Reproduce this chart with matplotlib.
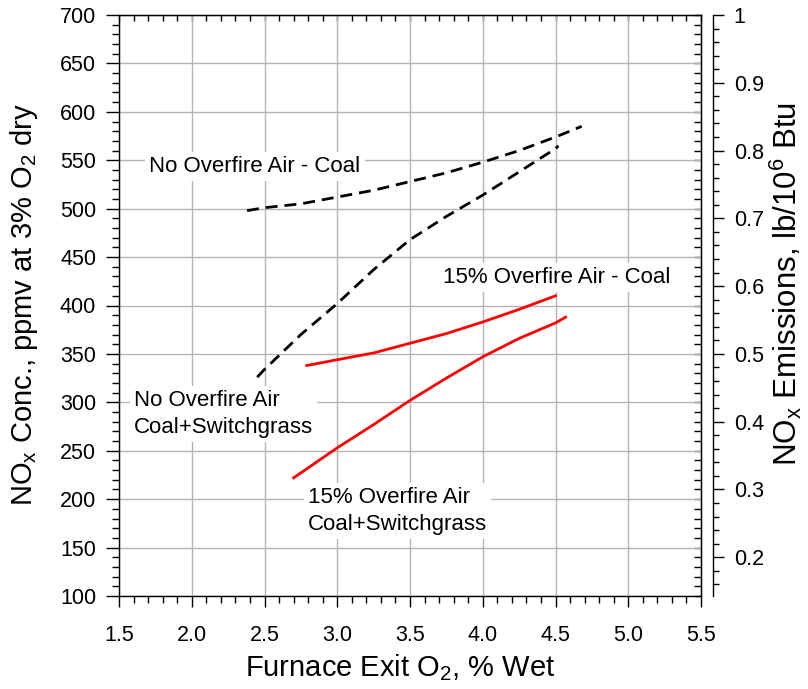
import matplotlib
matplotlib.use("Agg")
import matplotlib.pyplot as plt
from matplotlib.ticker import MultipleLocator, NullFormatter, FuncFormatter

plt.rcParams['font.family'] = ['Liberation Sans', 'DejaVu Sans']
plt.rcParams['mathtext.fontset'] = 'custom'
plt.rcParams['mathtext.rm'] = 'Liberation Sans'
plt.rcParams['mathtext.it'] = 'Liberation Sans:italic'
plt.rcParams['mathtext.default'] = 'regular'

# ---- data ----
nofa_coal_x = [2.38, 2.5, 2.75, 3.0, 3.25, 3.5, 3.75, 4.0, 4.25, 4.5, 4.68]
nofa_coal_y = [498, 501, 505, 512, 519, 528, 537, 548, 560, 574, 585]

nofa_sg_x = [2.45, 2.5, 2.75, 3.0, 3.25, 3.5, 3.75, 4.0, 4.25, 4.5, 4.52]
nofa_sg_y = [326, 334, 370, 402, 437, 468, 492, 514, 538, 562, 565]

ofa_coal_x = [2.79, 3.0, 3.25, 3.5, 3.75, 4.0, 4.25, 4.5]
ofa_coal_y = [338, 344, 351, 361, 371, 383, 396, 410]

ofa_sg_x = [2.70, 3.0, 3.25, 3.5, 3.75, 4.0, 4.25, 4.5, 4.57]
ofa_sg_y = [222, 253, 277, 302, 325, 347, 366, 382, 388]

labels = ["No Overfire Air - Coal",
          "No Overfire Air\nCoal+Switchgrass",
          "15% Overfire Air - Coal",
          "15% Overfire Air\nCoal+Switchgrass"]

ppm_per_lb = 700.0  # right axis conversion

W, H = 808, 689
fig = plt.figure(figsize=(W / 100, H / 100), dpi=100)
L, R, T, B = 119, 701, 15, 596
ax = fig.add_axes([L / W, 1 - B / H, (R - L) / W, (B - T) / H])

ax.set_xlim(1.5, 5.5)
ax.set_ylim(100, 700)
ax.xaxis.set_major_locator(MultipleLocator(0.5))
ax.xaxis.set_minor_locator(MultipleLocator(0.1))
ax.yaxis.set_major_locator(MultipleLocator(50))
ax.yaxis.set_minor_locator(MultipleLocator(10))
ax.xaxis.set_major_formatter(FuncFormatter(lambda v, p: f"{v:.1f}"))
ax.yaxis.set_major_formatter(FuncFormatter(lambda v, p: f"{v:.0f}"))
ax.grid(True, which='major', color='#b4b4b4', linewidth=1.0)
ax.set_axisbelow(True)
for s in ax.spines.values():
    s.set_color('black')
    s.set_linewidth(1.0)

ax.tick_params(axis='y', which='major', direction='out', length=9.5, width=1,
               labelsize=15.5, pad=7, right=False)
ax.tick_params(axis='y', which='minor', direction='out', length=4.8, width=1, right=False)
ax.tick_params(axis='x', which='major', direction='out', length=8, width=1,
               labelsize=15.5, pad=13, top=False)
ax.tick_params(axis='x', which='minor', direction='out', length=4.8, width=1, top=False)

# inward ticks on top and right of the frame
secx = ax.secondary_xaxis('top')
secx.xaxis.set_major_locator(MultipleLocator(0.5))
secx.xaxis.set_minor_locator(MultipleLocator(0.1))
secx.xaxis.set_major_formatter(NullFormatter())
secx.tick_params(which='major', direction='in', length=4, width=1)
secx.tick_params(which='minor', direction='in', length=4, width=1)
secy = ax.secondary_yaxis('right')
secy.yaxis.set_major_locator(MultipleLocator(50))
secy.yaxis.set_minor_locator(MultipleLocator(10))
secy.yaxis.set_major_formatter(NullFormatter())
secy.tick_params(which='major', direction='in', length=5, width=1)
secy.tick_params(which='minor', direction='in', length=5, width=1)

# curves
ax.plot(nofa_coal_x, nofa_coal_y, color='black', lw=2.0, dashes=(4.3, 2.5))
ax.plot(nofa_sg_x, nofa_sg_y, color='black', lw=2.0, dashes=(4.3, 2.5))
ax.plot(ofa_coal_x, ofa_coal_y, color='#ff0000', lw=2.0)
ax.plot(ofa_sg_x, ofa_sg_y, color='#ff0000', lw=2.0)

box = dict(facecolor='white', edgecolor='none', pad=3)
ax.text(2.435, 538, labels[0], fontsize=16, ha='center', va='baseline', bbox=box)
ax.text(1.603, 268.5, labels[1], fontsize=16, ha='left', va='baseline', bbox=box,
        linespacing=1.35)
ax.text(3.73, 423, labels[2], fontsize=16, ha='left', va='baseline', bbox=box)
ax.text(2.80, 168.5, labels[3], fontsize=16, ha='left', va='baseline', bbox=box,
        linespacing=1.35)

# right axis in lb/10^6 Btu
ax2 = ax.twinx()
ax2.set_ylim(100 / ppm_per_lb, 700 / ppm_per_lb)
for k in ('left', 'top', 'bottom'):
    ax2.spines[k].set_visible(False)
ax2.spines['right'].set_position(('outward', 8.6))
ax2.spines['right'].set_linewidth(1.0)
ax2.yaxis.set_major_locator(MultipleLocator(0.1))
ax2.yaxis.set_minor_locator(MultipleLocator(0.02))
ax2.yaxis.set_major_formatter(FuncFormatter(lambda v, p: f"{v:g}"))
ax2.tick_params(which='major', direction='out', length=8, width=1, labelsize=15.5, pad=7)
ax2.tick_params(which='minor', direction='out', length=4, width=1)

fig.text(24 / W, 1 - 305 / H, "NO$_x$ Conc., ppmv at 3% O$_2$ dry", rotation=90,
         ha='center', va='center', fontsize=21)
fig.text(786 / W, 1 - 284 / H, "NO$_x$ Emissions, lb/10$^6$ Btu", rotation=90,
         ha='center', va='center', fontsize=22.5)
fig.text(400 / W, 1 - 668 / H, "Furnace Exit O$_2$, % Wet", ha='center', va='center',
         fontsize=21)

fig.savefig("out.png", dpi=100)
